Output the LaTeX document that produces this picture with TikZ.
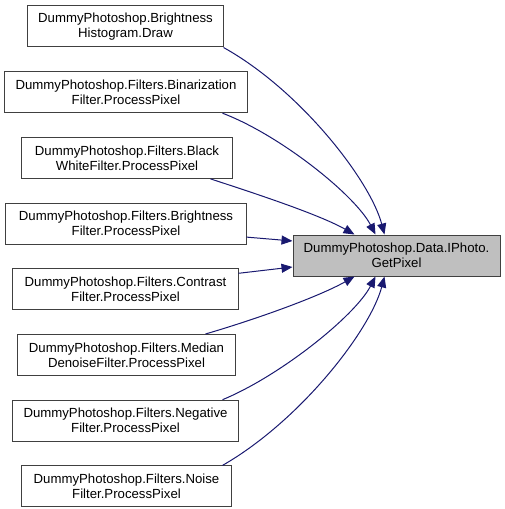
\documentclass[tikz,border=0pt]{standalone}
\usepackage{fontspec}
\setmainfont{Liberation Sans}
\usetikzlibrary{arrows.meta}
\definecolor{edgeblue}{HTML}{191970}
\definecolor{boxline}{HTML}{404040}
\definecolor{hilite}{HTML}{BFBFBF}
\tikzset{
  fn/.style={draw=boxline, line width=1bp, fill=white, align=center, inner sep=0pt,
    minimum height=41bp, font=\fontsize{13.2bp}{15bp}\selectfont},
  cur/.style={fn, fill=hilite},
  call/.style={draw=edgeblue, line width=1bp,
    -{Triangle[length=11bp,width=9bp,fill=edgeblue]}}
}
\begin{document}
\begin{tikzpicture}[x=1bp,y=-1bp]
\useasboundingbox (0,0) rectangle (505,509);
\node[fn, minimum width=195bp] (b1) at (125.5,26.5) {DummyPhotoshop.Brightness\\Histogram.Draw};
\node[fn, minimum width=242bp] (b2) at (126,92.2) {DummyPhotoshop.Filters.Binarization\\Filter.ProcessPixel};
\node[fn, minimum width=210bp] (b3) at (127,157.9) {DummyPhotoshop.Filters.Black\\WhiteFilter.ProcessPixel};
\node[fn, minimum width=240bp] (b4) at (126,223.6) {DummyPhotoshop.Filters.Brightness\\Filter.ProcessPixel};
\node[fn, minimum width=225bp] (b5) at (125.5,289.3) {DummyPhotoshop.Filters.Contrast\\Filter.ProcessPixel};
\node[fn, minimum width=217bp] (b6) at (126.5,355) {DummyPhotoshop.Filters.Median\\DenoiseFilter.ProcessPixel};
\node[fn, minimum width=225bp] (b7) at (125.5,420.7) {DummyPhotoshop.Filters.Negative\\Filter.ProcessPixel};
\node[fn, minimum width=209bp] (b8) at (126.5,486.4) {DummyPhotoshop.Filters.Noise\\Filter.ProcessPixel};
\node[cur, minimum width=207bp] (c) at (396.5,255.5) {DummyPhotoshop.Data.IPhoto.\\GetPixel};

\draw[call] (b1.south east) .. controls (300,90) and (370,180) .. ([xshift=92bp]c.north west);
\draw[call] ([xshift=-25bp]b2.south east) .. controls (280,135) and (355,195) .. ([xshift=83bp]c.north west);
\draw[call] ([xshift=-22bp]b3.south east) .. controls (260,195) and (320,215) .. ([xshift=62bp]c.north west);
\draw[call] ([yshift=-13.5bp]b4.east) -- ([yshift=14.5bp]c.west);
\draw[call] ([yshift=16bp]b5.east) -- ([yshift=-11.5bp]c.west);
\draw[call] ([xshift=-30bp]b6.north east) .. controls (260,318) and (320,296) .. ([xshift=62bp]c.south west);
\draw[call] ([xshift=-16bp]b7.north east) .. controls (280,376) and (355,316) .. ([xshift=83bp]c.south west);
\draw[call] ([xshift=-9bp]b8.north east) .. controls (300,421) and (370,331) .. ([xshift=92bp]c.south west);
\end{tikzpicture}
\end{document}
